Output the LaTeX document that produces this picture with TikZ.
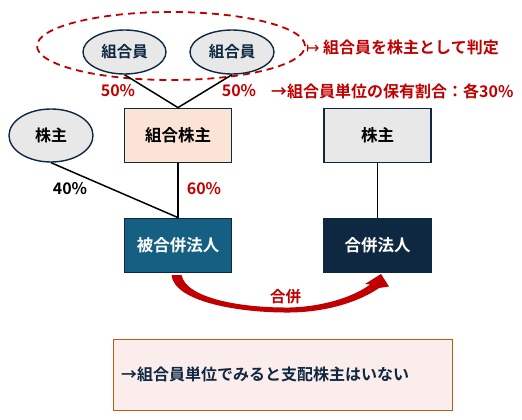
\documentclass[tikz,border=0pt]{standalone}
\usepackage{fontspec}
\setmainfont{Noto Sans CJK JP}[BoldFont={Noto Sans CJK JP Bold}]
\newfontfamily\dejavu{DejaVu Sans}
\usetikzlibrary{shapes.geometric}
\definecolor{navy}{HTML}{0E2841}
\definecolor{tealbox}{HTML}{156082}
\definecolor{peach}{HTML}{FBE3D6}
\definecolor{lgray}{HTML}{E8E8E8}
\definecolor{darkred}{HTML}{C00000}
\definecolor{notefill}{HTML}{FCEDED}
\definecolor{noteline}{HTML}{C55A11}
\begin{document}
\begin{tikzpicture}[x=1pt,y=-1pt,
  every node/.style={font=\bfseries\fontsize{16}{16}\selectfont},
  ell/.style={ellipse, draw=navy, line width=1.4pt, fill=lgray, inner sep=0pt},
  bx/.style={rectangle, draw=navy, line width=1.8pt, inner sep=0pt, minimum width=107, minimum height=54, font=\bfseries\fontsize{16.5}{16.5}\selectfont},
  ln/.style={line width=1.5pt, black},
  redtxt/.style={text=darkred},
  smalltxt/.style={font=\bfseries\fontsize{15.5}{15.5}\selectfont}
]
\useasboundingbox (0,0) rectangle (522,420);
% group ellipse
\node[ellipse, draw=darkred, line width=1.8pt, dash pattern=on 7pt off 5pt,
      minimum width=268, minimum height=68, inner sep=0pt] (grp) at (171,46) {};
\node[ell, minimum width=83, minimum height=44, text=navy, smalltxt] (m1) at (124.5,52) {組合員};
\node[ell, minimum width=84, minimum height=44, text=navy, smalltxt] (m2) at (232,52) {組合員};
\node[redtxt, anchor=west, inner sep=0pt] (t1) at (306,47) {{\dejavu\mdseries ↦} 組合員を株主として判定};
% percentages
\node[redtxt] (p1) at (118,91) {50\%};
\node[redtxt] (p2) at (239,91) {50\%};
\node[redtxt, anchor=west, inner sep=0pt] (t2) at (271,91) {→組合員単位の保有割合：各30\%};
% boxes
\node[bx, fill=peach] (k) at (178,135.5) {組合株主};
\node[ell, minimum width=84, minimum height=53] (s1) at (51,135.5) {株主};
\node[bx, fill=lgray] (s2) at (377.5,135.5) {株主};
\node[bx, fill=tealbox, text=white] (h) at (178,245.5) {被合併法人};
\node[bx, fill=navy, text=white] (g) at (377.5,245.5) {合併法人};
\node (p3) at (70,189) {40\%};
\node[redtxt] (p4) at (204,189) {60\%};
% connectors
\draw[ln] (m1.south) -- (k.north);
\draw[ln] (m2.south) -- (k.north);
\draw[ln] (s1.south) -- (h.north);
\draw[ln] (k.south) -- (h.north);
\draw[ln] (s2.south) -- (g.north);
% merger arrow
\coordinate (a0) at (171.5,275);
\coordinate (a1) at (181.5,275);
\coordinate (tip) at (381,274);
\fill[darkred] (a0) .. controls (174,302) and (240,313) .. (290,312.5)
   .. controls (330,312) and (362,300) .. (379,288)
   -- (389,286.5) -- (tip) -- (365,284) -- (370,284.5)
   .. controls (355,296) and (325,306.5) .. (290,307.5)
   .. controls (240,308) and (186,298) .. (a1) -- cycle;
\node[redtxt, smalltxt] (mg) at (285.5,297) {合併};
% note
\node[rectangle, draw=noteline, line width=1pt, fill=notefill, inner sep=0pt,
      minimum width=339, minimum height=71, anchor=north west] (note) at (113,339) {};
\node[anchor=west, inner sep=0pt, text=navy] (nt) at (121,374) {→組合員単位でみると支配株主はいない};
\end{tikzpicture}
\end{document}
